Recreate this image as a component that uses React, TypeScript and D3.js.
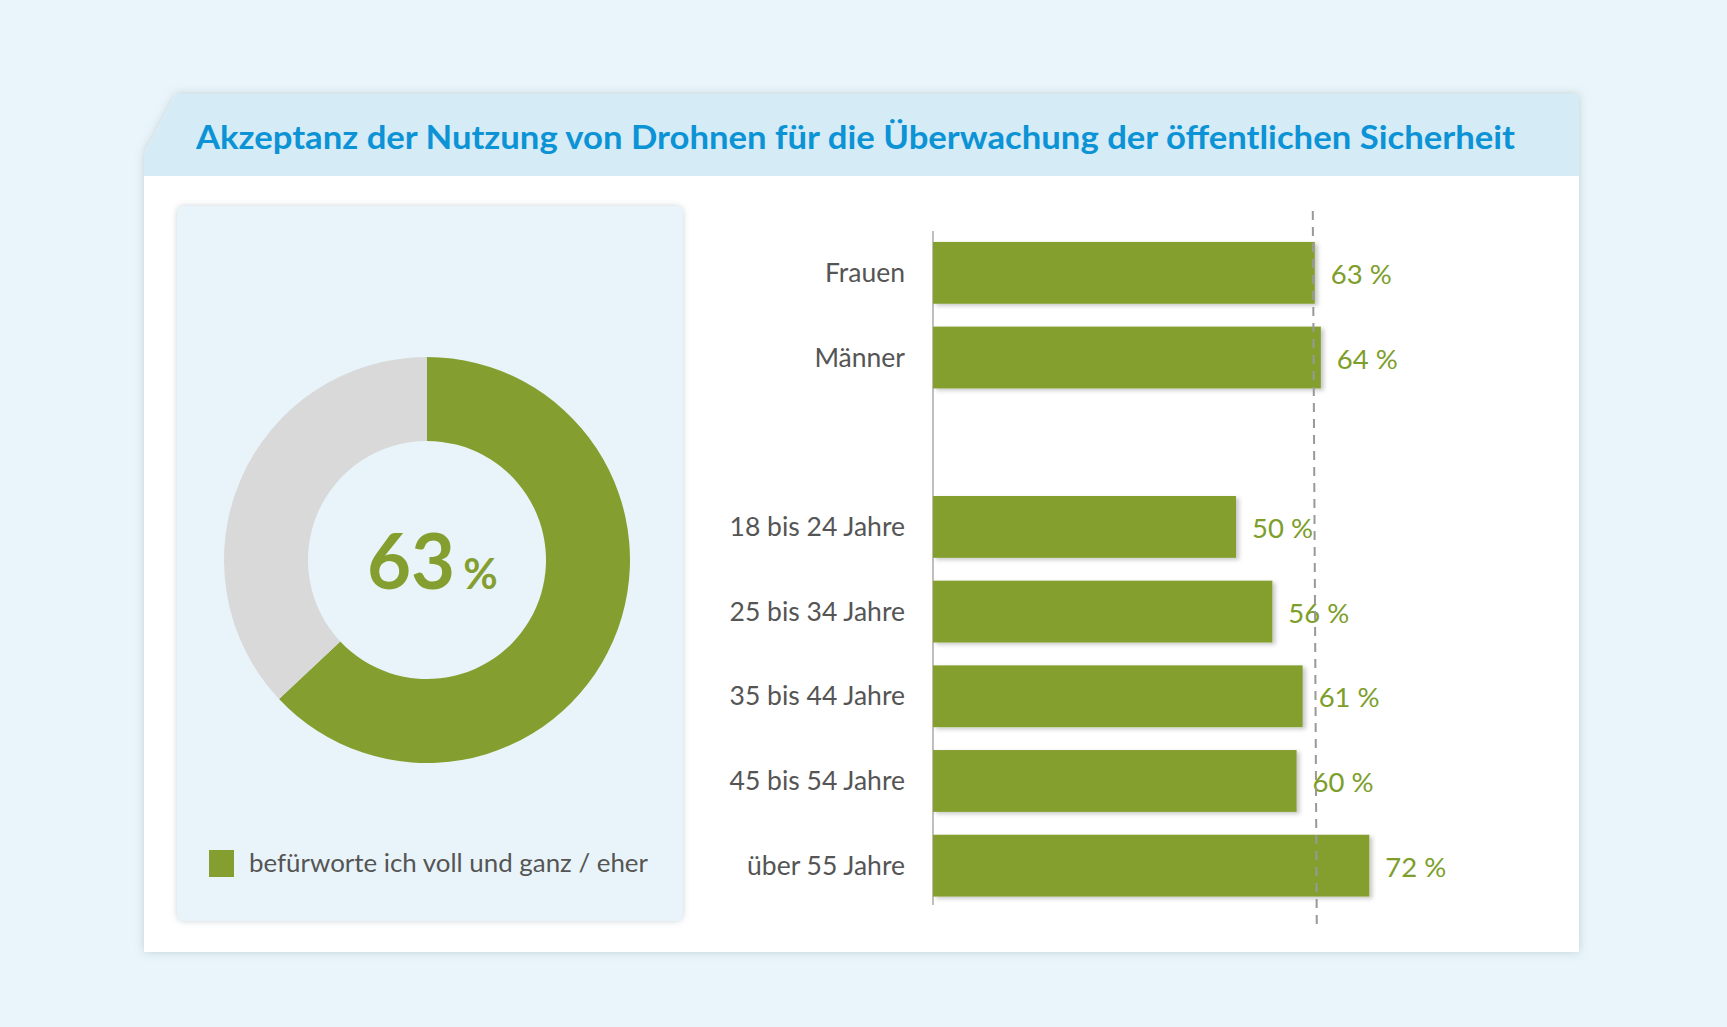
import React from "react";
import * as d3 from "d3";

const titleText = "Akzeptanz der Nutzung von Drohnen für die Überwachung der öffentlichen Sicherheit";
const overallValue = 63;
const legendLabel = "befürworte ich voll und ganz / eher";
const genderLabels = ["Frauen", "Männer"];
const genderValues = [63, 64];
const ageLabels = ["18 bis 24 Jahre", "25 bis 34 Jahre", "35 bis 44 Jahre", "45 bis 54 Jahre", "über 55 Jahre"];
const ageValues = [50, 56, 61, 60, 72];
const referenceValue = 63;

const GREEN = "#849f2f";
const LABEL_GREEN = "#7d9e2a";
const GREY_TEXT = "#555555";
const FONT = "Lato, 'Open Sans', sans-serif";

export default function App() {
  const W = 1727, H = 1027;
  const SPACER = "__spacer__";
  const rows = [
    ...genderLabels.map((l, i) => ({ label: l, value: genderValues[i] })),
    ...ageLabels.map((l, i) => ({ label: l, value: ageValues[i] })),
  ];
  const domain = [...genderLabels, SPACER, ...ageLabels];
  const y = d3.scaleBand<string>().domain(domain).range([230.5, 908]).paddingInner(0.27).paddingOuter(0.135);
  const x = d3.scaleLinear().domain([0, 100]).range([933, 1539]);

  const cx = 427, cy = 560;
  const pie = d3.pie<number>().sort(null).value((d) => d);
  const arcs = pie([overallValue, 100 - overallValue]);
  const arcGen = d3.arc<d3.PieArcDatum<number>>().innerRadius(119).outerRadius(203);

  const cardPath = "M176,94 L1579,94 L1579,952 L144,952 L144,154 Z";
  const headerPath = "M176,94 L1579,94 L1579,176 L144,176 L144,154 Z";

  return (
    <div style={{ position: "fixed", left: 0, top: 0, width: W, height: H }}>
      <svg width={W} height={H} style={{ display: "block" }}>
        <defs>
          <filter id="cardShadow" x="-5%" y="-5%" width="110%" height="110%">
            <feDropShadow dx="0" dy="0" stdDeviation="5" floodColor="#7a8a95" floodOpacity="0.35" />
          </filter>
          <filter id="panelShadow" x="-5%" y="-5%" width="110%" height="110%">
            <feDropShadow dx="0" dy="0" stdDeviation="3" floodColor="#8a9aa5" floodOpacity="0.45" />
          </filter>
          <filter id="barShadow" x="-5%" y="-20%" width="110%" height="150%">
            <feDropShadow dx="3" dy="2" stdDeviation="2" floodColor="#000" floodOpacity="0.22" />
          </filter>
        </defs>
        <rect x={0} y={0} width={W} height={H} fill="#e9f5fa" />
        <path d={cardPath} fill="#ffffff" filter="url(#cardShadow)" />
        <path d={headerPath} fill="#d5ebf6" />
        <text x={196} y={149} fontFamily={FONT} fontWeight={700} fontSize={33} fill="#0b93d5"
          textLength={1319} lengthAdjust="spacingAndGlyphs">{titleText}</text>

        {/* left panel */}
        <rect x={177} y={206} width={506} height={715} rx={7} fill="#e8f4f9" filter="url(#panelShadow)" />
        <g transform={`translate(${cx},${cy})`}>
          {arcs.map((a, i) => (
            <path key={i} d={arcGen(a) || ""} fill={i === 0 ? GREEN : "#d9d9d9"} />
          ))}
        </g>
        <text x={cx - 60} y={589} fontFamily={FONT} fontWeight={700} fill={GREEN}>
          <tspan fontSize={76}>{overallValue}</tspan>
          <tspan fontSize={42} dx={8}>%</tspan>
        </text>
        <rect x={209} y={850} width={25} height={27} fill={GREEN} />
        <text x={249} y={872} fontFamily={FONT} fontSize={25.9} fill={GREY_TEXT}>{legendLabel}</text>

        {/* bars */}
        <line x1={933} x2={933} y1={231} y2={905} stroke="#aaaaaa" strokeWidth={1.5} />
        {rows.map((r) => (
          <g key={r.label}>
            <rect x={x(0)} y={y(r.label)} width={x(r.value) - x(0)} height={y.bandwidth()} fill={GREEN} filter="url(#barShadow)" />
            <text x={905} y={(y(r.label) as number) + y.bandwidth() / 2 + 9} textAnchor="end" fontFamily={FONT} fontSize={26.5} fill={GREY_TEXT}>{r.label}</text>
            <text x={x(r.value) + 16} y={(y(r.label) as number) + y.bandwidth() / 2 + 11} fontFamily={FONT} fontSize={27.5} fill={LABEL_GREEN}>{`${r.value} %`}</text>
          </g>
        ))}
        <line x1={x(referenceValue) - 2} x2={x(referenceValue) + 2} y1={211} y2={928} stroke="#999999" strokeWidth={2} strokeDasharray="9,7" />
      </svg>
    </div>
  );
}
